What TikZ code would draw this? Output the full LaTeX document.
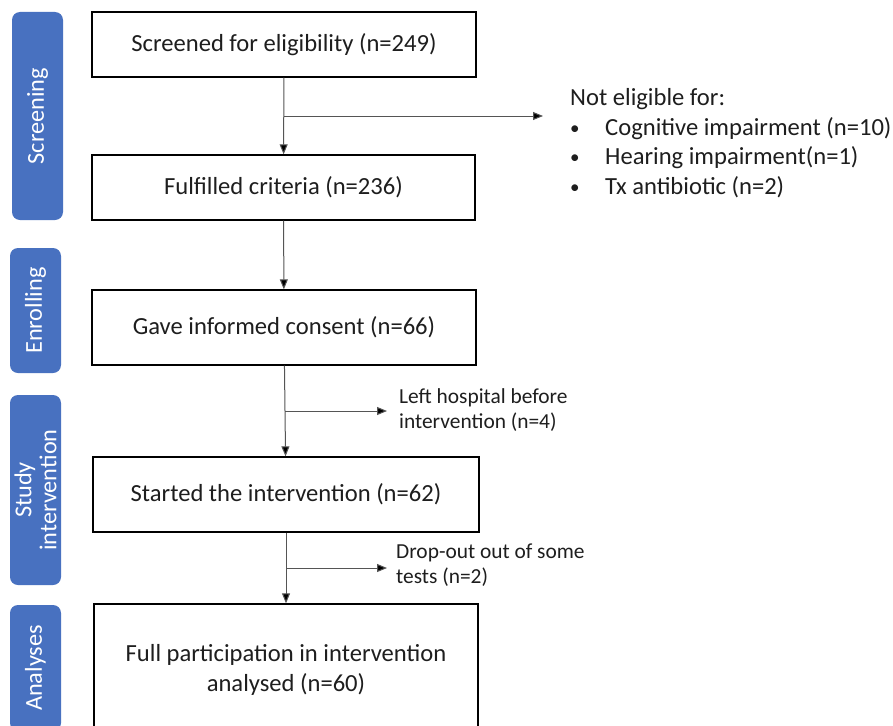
\documentclass[tikz,border=0pt]{standalone}
\usepackage{fontspec}
\setmainfont{Carlito}
\usetikzlibrary{arrows.meta,calc}
\definecolor{barblue}{RGB}{72,113,192}
\definecolor{txt}{RGB}{30,30,30}
\definecolor{linegray}{RGB}{85,85,85}
\newcommand{\smbul}{\makebox[35pt][l]{\raisebox{1pt}{\fontsize{19}{19}\selectfont\textbullet}}}
\begin{document}
\begin{tikzpicture}[x=1pt,y=-1pt,
  bigfont/.style={font=\fontsize{24.6}{29.5}\selectfont},
  smallfont/.style={font=\fontsize{21.4}{25}\selectfont},
  stagebar/.style={draw=none, fill=barblue, rounded corners=8pt, text=white, rotate=90,
     minimum height=51pt, inner sep=0pt, align=center, font=\fontsize{24.3}{25}\selectfont},
  flowbox/.style={draw=black, line width=1.4pt, fill=white, text=txt, inner sep=0pt,
     align=center, bigfont},
  lbl/.style={text=txt, inner sep=0pt, align=left},
  conn/.style={draw=linegray, line width=1pt, -{Triangle[length=10pt,width=8pt,fill=black]}}
]
\useasboundingbox (0,0) rectangle (893,725);
\clip (0,0) rectangle (893,725);
\fill[white] (0,0) rectangle (893,725);

% stage bars
\node[stagebar, minimum width=208pt] (s1) at (37.5,116) {Screening};
\node[stagebar, minimum width=125pt] (s2) at (35.5,310.5) {Enrolling};
\node[stagebar, minimum width=190pt] (s3) at (35.5,490) {Study\\intervention};
\node[stagebar, minimum width=126pt] (s4) at (35.5,668) {Analyses};

% flow boxes
\node[flowbox, minimum width=384pt, minimum height=65pt] (b1) at (284,44.5) {Screened for eligibility (n=249)};
\node[flowbox, minimum width=383pt, minimum height=65pt] (b2) at (283.5,187.5) {Fulfilled criteria (n=236)};
\node[flowbox, minimum width=384pt, minimum height=75pt] (b3) at (284,327.5) {Gave informed consent (n=66)};
\node[flowbox, minimum width=386pt, minimum height=75pt] (b4) at (286,494.5) {Started the intervention (n=62)};
\node[flowbox, minimum width=384pt, minimum height=132pt] (b5) at (286,670) {};
\node[lbl, bigfont, align=center] (b5t) at (286,670) {Full participation in intervention\\analysed (n=60)};

% side labels
\node[lbl, bigfont, anchor=west] (ne) at (570,143) {Not eligible for:\\
  \smbul Cognitive impairment (n=10)\\
  \smbul Hearing impairment(n=1)\\
  \smbul Tx antibiotic (n=2)};
\node[lbl, smallfont, anchor=west] (lh) at (399,410.5) {Left hospital before\\intervention (n=4)};
\node[lbl, smallfont, anchor=west] (dr) at (396,565) {Drop-out out of some\\tests (n=2)};

% junctions
\coordinate (j1) at ($(b1.south)!0.5!(b2.north)$);
\coordinate (j2) at ($(b3.south)!0.5!(b4.north)$);
\coordinate (j3) at ($(b4.south)!0.5!(b5.north)$);

% connectors
\draw[conn] (b1) -- (b2);
\draw[conn] (b2) -- (b3);
\draw[conn] (b3) -- (b4);
\draw[conn] (b4.south) -- (b5.north);
\draw[conn] (j1) -- ([xshift=-27pt]j1 -| ne.west);
\draw[conn] (j2) -- ([xshift=-12pt]j2 -| lh.west);
\draw[conn] (j3) -- ([xshift=-9pt]j3 -| dr.west);
\end{tikzpicture}
\end{document}
